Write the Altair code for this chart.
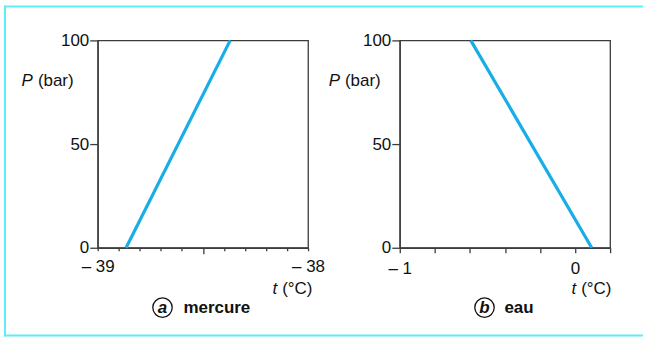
import altair as alt
import pandas as pd

# Melting curves P(t) for mercury and water
t_mercure = [-38.865, -38.37]
p_mercure = [0, 100]
t_eau = [0.095, -0.595]
p_eau = [0, 100]

ticks_mercure = [-39.0, -38.9, -38.8, -38.7, -38.6, -38.5, -38.4, -38.3, -38.2, -38.1, -38.0]
ticks_eau = [-1.0, -0.8, -0.6, -0.4, -0.2, 0.0, 0.2]
ticks_p = [0, 50, 100]

FONT = "Liberation Sans"
FS = 17
LINE = "#17aee6"
FRAME = "#5feef3"
AXIS = "#3c3c3c"
W, H = 211, 208


def label(text, x, y, align="left", style="normal", weight="normal", size=FS):
    return alt.Chart(pd.DataFrame({"k": [0]})).mark_text(
        text=text, align=align, baseline="middle", font=FONT, fontSize=size,
        fontStyle=style, fontWeight=weight, color="#111111",
    ).encode(x=alt.value(x), y=alt.value(y))


def panel(t, p, domain, xticks, label_expr, tick_size, letter, word,
          p_x, t_x, circ_x, word_x, frame=False):
    df = pd.DataFrame({"t": t, "P": p})
    line = alt.Chart(df).mark_line(color=LINE, strokeWidth=3.2).encode(
        x=alt.X("t:Q", scale=alt.Scale(domain=domain, nice=False, zero=False),
                axis=alt.Axis(values=xticks, labelExpr=label_expr, tickSize=tick_size,
                              labelPadding=8, labelFontSize=FS, labelFont=FONT,
                              labelColor="#111111", domainColor=AXIS, tickColor=AXIS,
                              domainWidth=1.3, tickWidth=1.3, grid=False,
                              labelBaseline="top", labelAlign="center"),
                title=None),
        y=alt.Y("P:Q", scale=alt.Scale(domain=[0, 100], nice=False),
                axis=alt.Axis(values=ticks_p, tickSize=8, labelPadding=1,
                              labelFontSize=FS, labelFont=FONT, labelColor="#111111",
                              domainColor=AXIS, tickColor=AXIS, domainWidth=1.3,
                              tickWidth=1.3, grid=False),
                title=None),
    )
    layers = [line,
              label("P", p_x, 41, align="right", style="italic"),
              label("(bar)", p_x + 5, 41),
              label("t", t_x, 249, align="right", style="italic"),
              label("(°C)", t_x + 5, 249),
              alt.Chart(pd.DataFrame({"k": [0]})).mark_point(
                  shape="circle", size=380, filled=False, color="#111111",
                  strokeWidth=1.3, opacity=1).encode(x=alt.value(circ_x), y=alt.value(268)),
              label(letter, circ_x, 268, align="center", style="italic", weight="bold"),
              label(word, word_x, 268, weight="bold")]
    if frame:
        rule = alt.Chart(pd.DataFrame({"k": [0]})).mark_rule(color=FRAME, strokeWidth=2)
        layers += [
            rule.encode(x=alt.value(-93), y=alt.value(-35), y2=alt.value(297)),
            rule.encode(x=alt.value(-94), x2=alt.value(547), y=alt.value(-34)),
            rule.encode(x=alt.value(-94), x2=alt.value(547), y=alt.value(296)),
        ]
    return alt.layer(*layers).properties(width=W, height=H)


expr_a = ("abs(datum.value + 39) < 1e-6 ? '\u2013 39' : "
          "abs(datum.value + 38) < 1e-6 ? '\u2013 38' : ''")
expr_b = ("abs(datum.value + 1) < 1e-6 ? '\u2013 1' : "
          "abs(datum.value) < 1e-6 ? '0' : ''")

tick_a = {"condition": {"test": "abs(datum.value + 38.5) < 1e-6", "value": 6}, "value": 3}

a = panel(t_mercure, p_mercure, [-39, -38], ticks_mercure, expr_a, tick_a,
          "a", "mercure", p_x=-65, t_x=180, circ_x=65, word_x=86, frame=True)
b = panel(t_eau, p_eau, [-1, 0.2], ticks_eau, expr_b, 5,
          "b", "eau", p_x=-60, t_x=177, circ_x=85, word_x=105)

chart = alt.hconcat(a, b, spacing=92, bounds="flush").properties(
    padding={"left": 2, "top": 3, "right": 0, "bottom": 0},
    background="white",
).configure_view(stroke=AXIS, strokeWidth=1.3)

chart.save("out.html", embed_options={"renderer": "svg", "actions": False})
